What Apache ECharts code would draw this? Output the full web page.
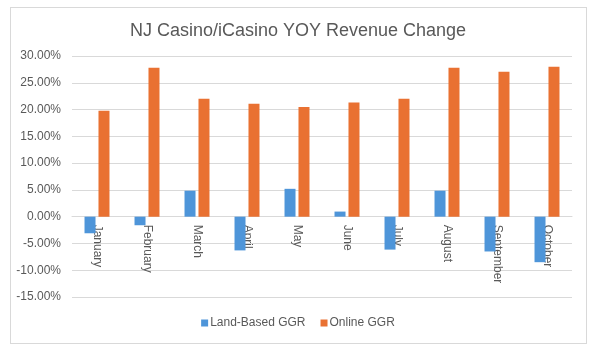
<!DOCTYPE html>
<html>
<head>
<meta charset="utf-8">
<script src="https://cdn.jsdelivr.net/npm/echarts@6/dist/echarts.min.js"></script>
<style>
html,body{margin:0;padding:0;background:#fff;}
#frame{position:absolute;left:10px;top:7px;width:577px;height:337px;border:1px solid #d9d9d9;box-sizing:border-box;}
#chart{position:absolute;left:0;top:0;width:596px;height:346px;}
</style>
</head>
<body>
<div id="frame"></div>
<div id="chart"></div>
<script>
const categories = ["January","February","March","April","May","June","July","August","September","October"];
const landBased = [-3.1, -1.6, 4.85, -6.3, 5.2, 0.95, -6.15, 4.85, -6.5, -8.5];
const online = [19.8, 27.8, 22.0, 21.1, 20.5, 21.3, 22.0, 27.8, 27.05, 28.0];
const yMin = -15, yMax = 30, yStep = 5;

const gridTop = 56, gridBottom = 49, H = 346;
const plotH = H - gridTop - gridBottom;
const zeroOffset = -(0 - yMin) / (yMax - yMin) * plotH;

const chart = echarts.init(document.getElementById('chart'), null, {renderer:'canvas'});
const font = 'Liberation Sans';
chart.setOption({
  backgroundColor: 'transparent',
  animation: false,
  title: {
    text: 'NJ Casino/iCasino YOY Revenue Change',
    left: 'center', top: 17,
    textStyle: {fontFamily: font, fontSize: 18, fontWeight: 'normal', color: '#595959'}
  },
  legend: {
    bottom: 12, left: 'center',
    itemWidth: 7, itemHeight: 7, itemGap: 15,
    icon: 'rect',
    textStyle: {fontFamily: font, fontSize: 12, color: '#595959', padding: [0,0,0,-3]},
    data: ['Land-Based GGR', 'Online GGR']
  },
  grid: {left: 72, right: 24, top: gridTop, bottom: gridBottom, containLabel: false, outerBoundsMode: 'none'},
  xAxis: {
    type: 'category', data: categories, position: 'bottom', offset: zeroOffset,
    axisTick: {show: false},
    axisLine: {show: true, onZero: false, lineStyle: {color: '#d9d9d9'}},
    axisLabel: {rotate: -90, margin: 8, fontFamily: font, fontSize: 12, color: '#595959', interval: 0}
  },
  yAxis: {
    type: 'value', min: yMin, max: yMax, interval: yStep,
    axisLine: {show: false}, axisTick: {show: false},
    splitLine: {lineStyle: {color: '#d9d9d9'}},
    axisLabel: {margin: 11, fontFamily: font, fontSize: 12, color: '#595959',
      formatter: v => v.toFixed(2) + '%'}
  },
  series: [
    {name: 'Land-Based GGR', type: 'bar', data: landBased, barWidth: 11, barGap: '27%', itemStyle: {color: '#4E95D9'}},
    {name: 'Online GGR', type: 'bar', data: online, barWidth: 11, barGap: '27%', itemStyle: {color: '#E97132'}}
  ]
});
</script>
</body>
</html>
